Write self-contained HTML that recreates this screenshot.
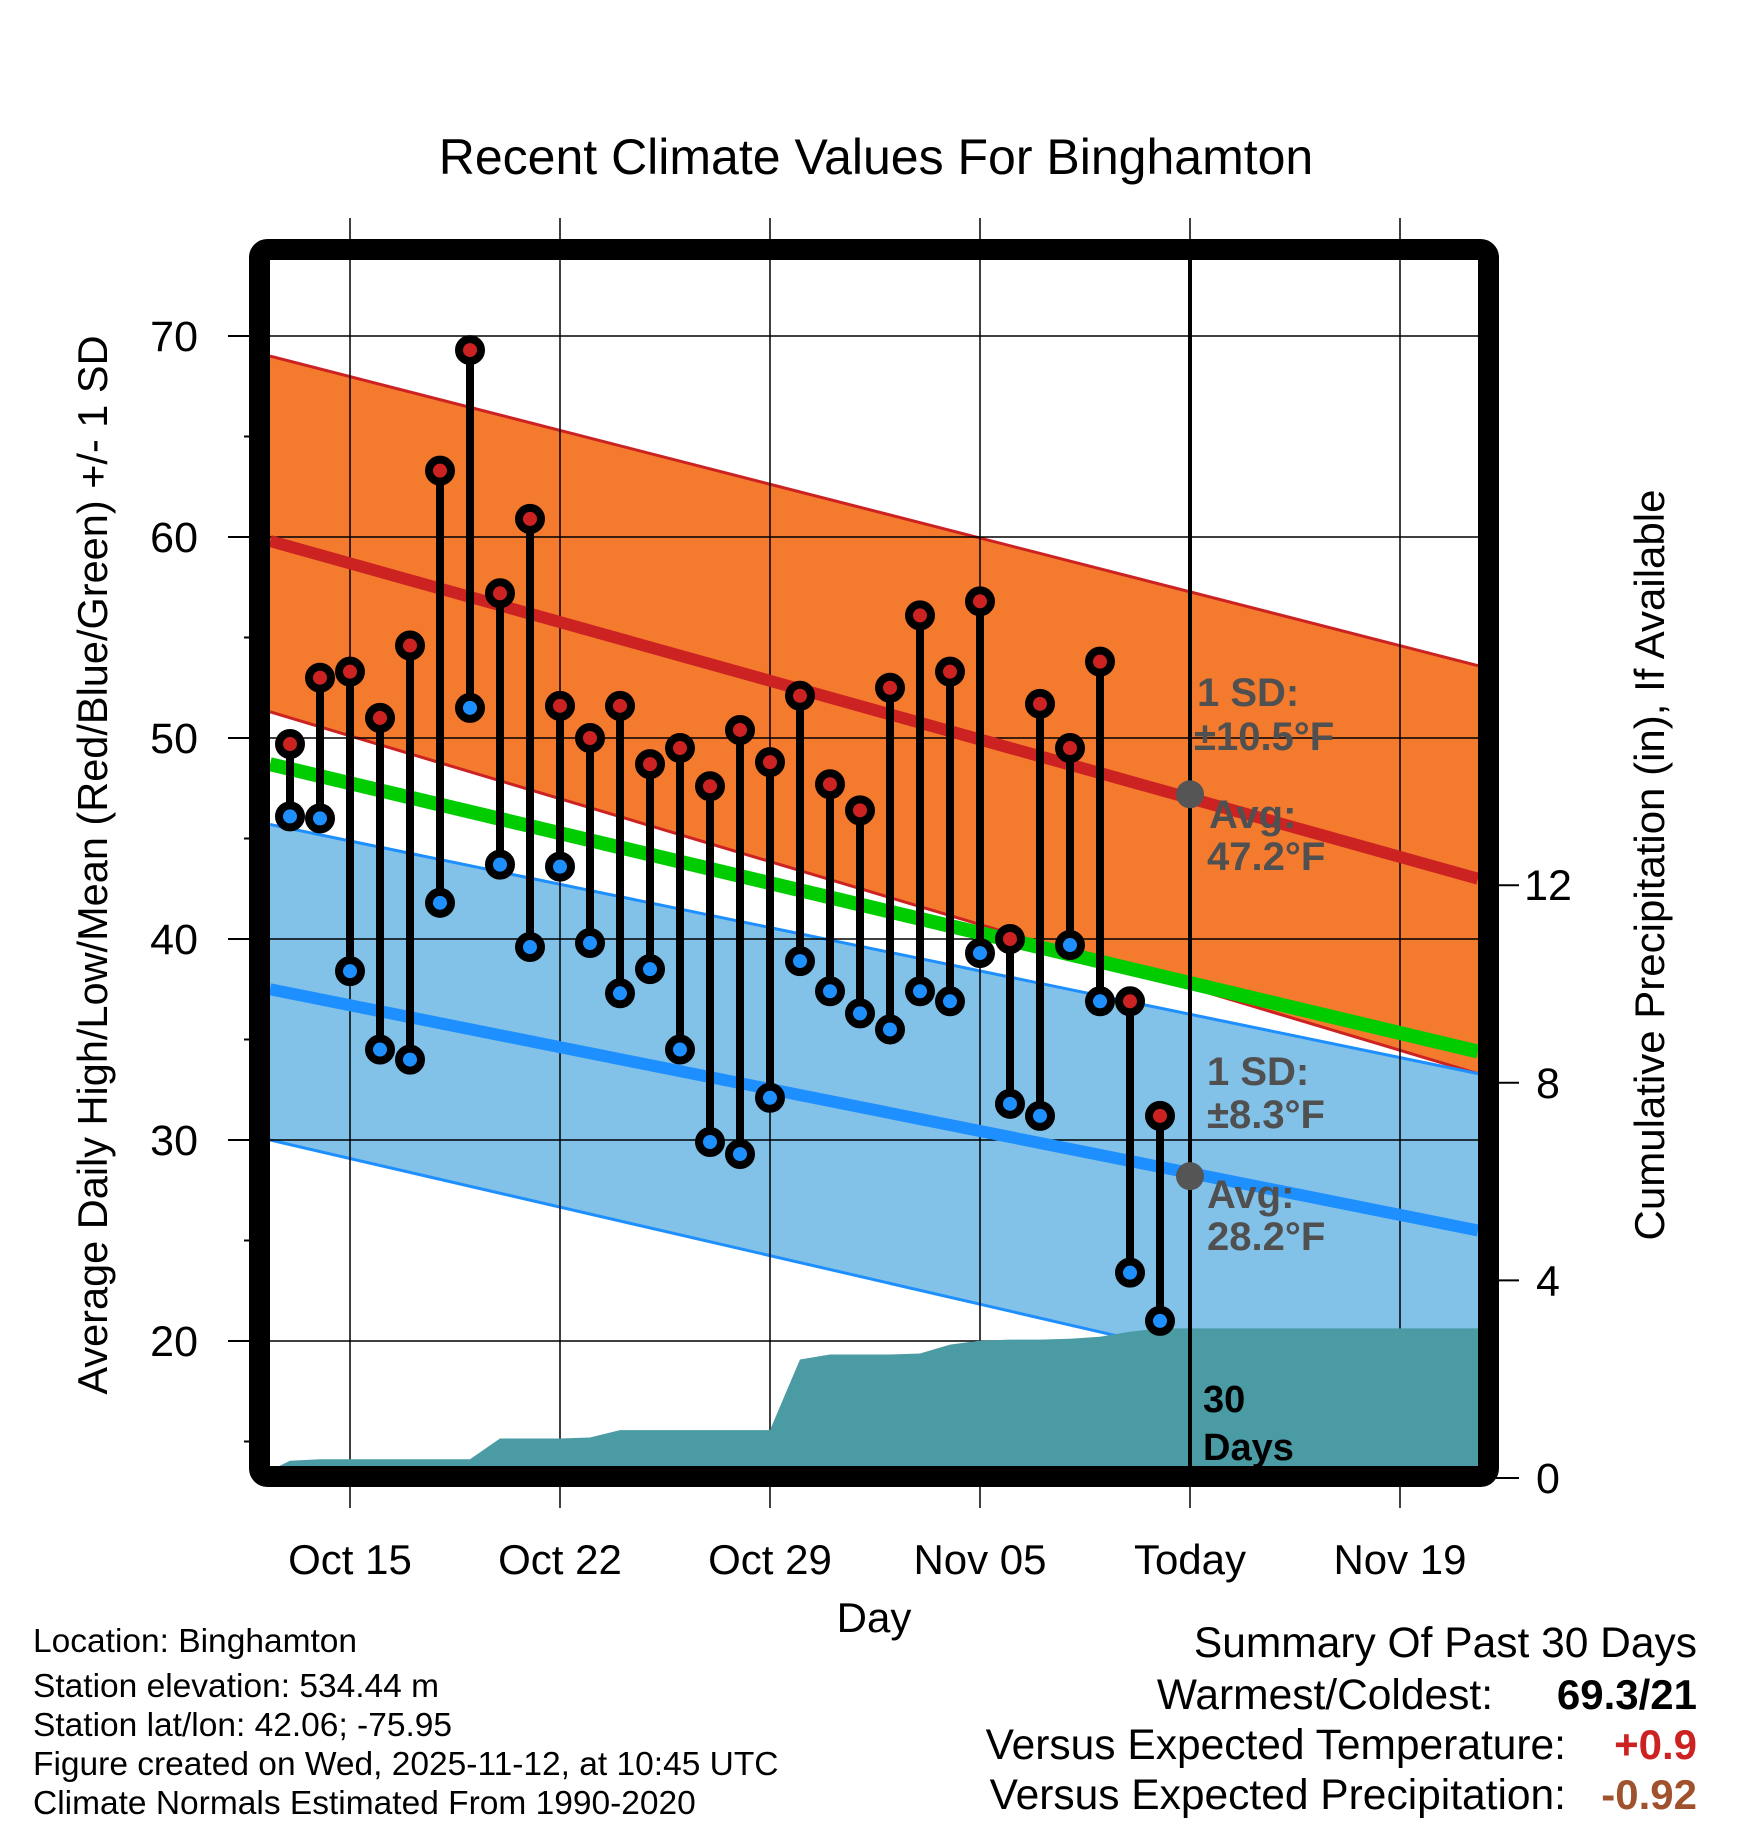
<!DOCTYPE html>
<html><head><meta charset="utf-8"><style>
html,body{margin:0;padding:0;background:#fff;}
svg{display:block;font-family:"Liberation Sans",Arial,sans-serif;}
</style></head><body>
<svg id="chart" width="1748" height="1828" viewBox="0 0 1748 1828">
<g id="layers"></g>
</svg>
<script>
const days = ["Oct 13","Oct 14","Oct 15","Oct 16","Oct 17","Oct 18","Oct 19","Oct 20","Oct 21","Oct 22","Oct 23","Oct 24","Oct 25","Oct 26","Oct 27","Oct 28","Oct 29","Oct 30","Oct 31","Nov 01","Nov 02","Nov 03","Nov 04","Nov 05","Nov 06","Nov 07","Nov 08","Nov 09","Nov 10","Nov 11"];
const highs = [49.7,53.0,53.3,51.0,54.6,63.3,69.3,57.2,60.9,51.6,50.0,51.6,48.7,49.5,47.6,50.4,48.8,52.1,47.7,46.4,52.5,56.1,53.3,56.8,40.0,51.7,49.5,53.8,36.9,31.2];
const lows = [46.1,46.0,38.4,34.5,34.0,41.8,51.5,43.7,39.6,43.6,39.8,37.3,38.5,34.5,29.9,29.3,32.1,38.9,37.4,36.3,35.5,37.4,36.9,39.3,31.8,31.2,39.7,36.9,23.4,21.0];
const precip = [0.35,0.38,0.38,0.38,0.38,0.38,0.38,0.8,0.8,0.8,0.82,0.97,0.97,0.97,0.97,0.97,0.97,2.4,2.5,2.5,2.5,2.52,2.7,2.78,2.8,2.8,2.82,2.86,2.96,3.03];
// normals at plot left edge (day -0.67) and right edge (day 39.6)
const normDays = [-0.67, 39.6];
const highTop = [69.0, 53.6];
const highAvg = [59.8, 43.0];
const highBot = [51.3, 33.3];
const meanAvg = [48.7, 34.4];
const lowTop = [45.7, 33.3];
const lowAvg = [37.5, 25.5];
const lowBot = [30.0, 16.1];
const yTicks = [20,30,40,50,60,70];
const yMinor = [15,25,35,45,55,65];
const pTicks = [0,4,8,12];
const xTickDays = [2,9,16,23,30,37];
const xTickLabels = ["Oct 15","Oct 22","Oct 29","Nov 05","Today","Nov 19"];
const todayDay = 30, todayHigh = 47.2, todayLow = 28.2;

const L=270,R=1478,T=260,B=1466;
const X = d => 290 + d*30;
const Y = t => 336 + (70 - t)*20.1;
const P = p => 1478 - p*49.4;
const NS="http://www.w3.org/2000/svg";
const root=document.getElementById('layers');
function mk(tag, attrs, parent){const e=document.createElementNS(NS,tag);for(const k in attrs)e.setAttribute(k,attrs[k]);(parent||root).appendChild(e);return e;}
function txt(s, attrs){const e=mk('text',attrs);e.textContent=s;return e;}
function band(top,bot){
  return `M${L},${Y(top[0])} L${R},${Y(top[1])} L${R},${Y(bot[1])} L${L},${Y(bot[0])} Z`;
}
function line(v){const a=normDays.map((d,i)=>[Math.max(L,Math.min(R,X(d))),Y(v[i])]);return a;}

const defs=mk('defs',{});
const cp=mk('clipPath',{id:'plotclip'},defs);
mk('rect',{x:L,y:T,width:R-L,height:B-T},cp);
const g=mk('g',{'clip-path':'url(#plotclip)'});

let e;
e=mk('path',{d:band(highTop,highBot),fill:'#f47a2e'},g);


[highTop,highBot].forEach(v=>{const a=line(v);mk('line',{x1:a[0][0],y1:a[0][1],x2:a[1][0],y2:a[1][1],stroke:'#cc2222','stroke-width':3},g);});
e=mk('path',{d:band(lowTop,lowBot),fill:'#82c1e8'},g);


[lowTop,lowBot].forEach(v=>{const a=line(v);mk('line',{x1:a[0][0],y1:a[0][1],x2:a[1][0],y2:a[1][1],stroke:'#1e8fff','stroke-width':3},g);});
yTicks.forEach(t=>mk('line',{x1:L,x2:R,y1:Y(t),y2:Y(t),stroke:'#000','stroke-width':1.5},g));
xTickDays.forEach(d=>mk('line',{x1:X(d),x2:X(d),y1:T,y2:B,stroke:'#000','stroke-width':1.5},g));
[[highAvg,'#cc2222',12,'high-average-line'],[meanAvg,'#00cc00',14,'mean-average-line'],[lowAvg,'#1e8fff',12,'low-average-line']].forEach(([v,c,w,n])=>{
  const a=line(v);
  e=mk('line',{x1:a[0][0],y1:a[0][1],x2:a[1][0],y2:a[1][1],stroke:c,'stroke-width':w},g);
  
  
});
let pd=`M${L},${B} L${L},${P(0.2)} L${X(-0.5)},${P(0.2)}`;
precip.forEach((p,i)=>{pd+=` L${X(i)},${P(p)}`;});
pd+=` L${R},${P(precip[precip.length-1])} L${R},${B} Z`;
e=mk('path',{d:pd,fill:'#4a9ba3'},g);


e=mk('line',{x1:X(todayDay),x2:X(todayDay),y1:T,y2:B,stroke:'#000','stroke-width':4},g);


days.forEach((d,i)=>{
  const s=mk('line',{x1:X(i),x2:X(i),y1:Y(highs[i]),y2:Y(lows[i]),stroke:'#000','stroke-width':8});
  
  
});
days.forEach((d,i)=>{
  const h=mk('circle',{cx:X(i),cy:Y(highs[i]),r:11,fill:'#cc2222',stroke:'#000','stroke-width':8});
  
  
  const l=mk('circle',{cx:X(i),cy:Y(lows[i]),r:11,fill:'#1e8fff',stroke:'#000','stroke-width':8});
  
  
});
[todayHigh,todayLow].forEach(v=>{
  const c=mk('circle',{cx:X(todayDay),cy:Y(v),r:14,fill:'#555'});
  
  
});
const ann=[["1 SD:",1197,706],["±10.5°F",1194,750],["Avg:",1209,828],["47.2°F",1207,870],["1 SD:",1207,1085],["±8.3°F",1207,1128],["Avg:",1207,1208],["28.2°F",1207,1250]];
ann.forEach(a=>{const t=txt(a[0],{x:a[1],y:a[2],'font-size':40,'font-weight':'bold',fill:'#505050'});});
txt("30",{x:1203,y:1412,'font-size':38,'font-weight':'bold',fill:'#000'});
txt("Days",{x:1203,y:1460,'font-size':38,'font-weight':'bold',fill:'#000'});
xTickDays.forEach(d=>{mk('line',{x1:X(d),x2:X(d),y1:218,y2:250,stroke:'#000','stroke-width':1.5});mk('line',{x1:X(d),x2:X(d),y1:1480,y2:1508,stroke:'#000','stroke-width':1.5});});
yTicks.forEach(t=>mk('line',{x1:228,x2:252,y1:Y(t),y2:Y(t),stroke:'#000','stroke-width':2}));
yMinor.forEach(t=>mk('line',{x1:244,x2:252,y1:Y(t),y2:Y(t),stroke:'#000','stroke-width':2}));
pTicks.forEach(p=>mk('line',{x1:1496,x2:1519,y1:P(p),y2:P(p),stroke:'#000','stroke-width':2}));
e=mk('rect',{x:259.5,y:249.5,width:1229,height:1227,rx:8,fill:'none',stroke:'#000','stroke-width':21});


yTicks.forEach(t=>{const e=txt(String(t),{x:198,y:Y(t)+15,'font-size':43,'text-anchor':'end'});});
pTicks.forEach(p=>{const e=txt(String(p),{x:1548,y:P(p)+15,'font-size':43,'text-anchor':'middle'});});
xTickDays.forEach((d,i)=>{const e=txt(xTickLabels[i],{x:X(d),y:1574,'font-size':42,'text-anchor':'middle'});});
e=txt("Recent Climate Values For Binghamton",{x:876,y:174,'font-size':50,'text-anchor':'middle'});

e=txt("Day",{x:874,y:1632,'font-size':42,'text-anchor':'middle'});

e=txt("Average Daily High/Low/Mean (Red/Blue/Green) +/- 1 SD",{x:0,y:0,'font-size':41.5,'text-anchor':'middle',transform:'translate(107,865) rotate(-90)'});

e=txt("Cumulative Precipitation (in), If Available",{x:0,y:0,'font-size':42,'text-anchor':'middle',transform:'translate(1664,865) rotate(-90)'});

const foot=[["Location: Binghamton",1652],["Station elevation: 534.44 m",1697],["Station lat/lon: 42.06; -75.95",1736],["Figure created on Wed, 2025-11-12, at 10:45 UTC",1775],["Climate Normals Estimated From 1990-2020",1814]];
foot.forEach(f=>{const e=txt(f[0],{x:33,y:f[1],'font-size':33.5});});
const sum=[["Summary Of Past 30 Days",1697,1657,null,null],["Warmest/Coldest:",1493,1709,"69.3/21","#000"],["Versus Expected Temperature:",1566,1759,"+0.9","#cc2222"],["Versus Expected Precipitation:",1566,1809,"-0.92","#a0522d"]];
sum.forEach(s=>{const e=txt(s[0],{x:s[1],y:s[2],'font-size':42.5,'text-anchor':'end'});
 if(s[3]){const v=txt(s[3],{x:1697,y:s[2],'font-size':42,'font-weight':'bold','text-anchor':'end',fill:s[4]});}});
</script>
</body></html>
